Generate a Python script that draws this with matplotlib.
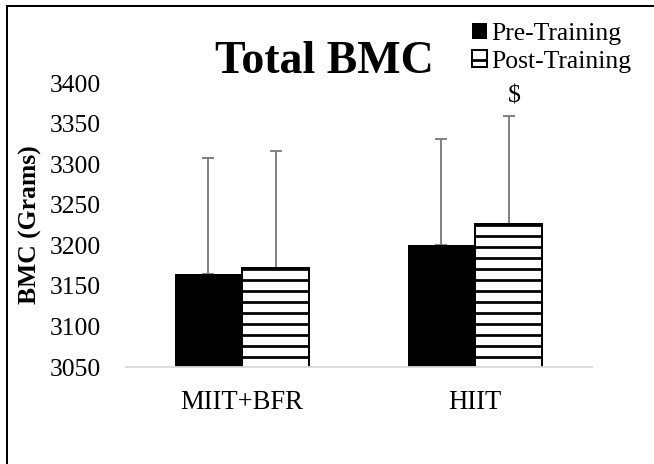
import numpy as np
import matplotlib
matplotlib.use("Agg")
import matplotlib.pyplot as plt
from matplotlib.lines import Line2D

# data
groups = ["MIIT+BFR", "HIIT"]
pre_vals = [3165, 3200]
post_vals = [3172, 3226]
pre_err = [142, 131]
post_err = [144, 133]
yticks = [3050, 3100, 3150, 3200, 3250, 3300, 3350, 3400]

plt.rcParams['font.family'] = ['Liberation Serif', 'DejaVu Serif']
plt.rcParams['hatch.linewidth'] = 3.0
plt.rcParams['hatch.color'] = 'black'

DPI = 66
fig = plt.figure(figsize=(654 / DPI, 464 / DPI), dpi=DPI)
ax = fig.add_axes([125.5 / 654, 97 / 464, 466 / 654, 284 / 464])

x = np.arange(len(groups))
w = 0.2876
ax.bar(x - w / 2, pre_vals, w, color='black', edgecolor='black', linewidth=0,
       label='Pre-Training', zorder=2)
ax.bar(x + w / 2, post_vals, w, color='white', edgecolor='black', linewidth=2.2,
       hatch='-', label='Post-Training', zorder=2)

ecol = '#7a7a7a'
ax.errorbar(x - w / 2, pre_vals, yerr=[np.zeros(2), pre_err], fmt='none',
            ecolor=ecol, elinewidth=2.0, capsize=6.5, capthick=2.0, zorder=1)
ax.errorbar(x + w / 2, post_vals, yerr=[np.zeros(2), post_err], fmt='none',
            ecolor=ecol, elinewidth=2.0, capsize=6.5, capthick=2.0, zorder=1)

# significance marker
ax.annotate('$', xy=(x[1] + w / 2, post_vals[1] + post_err[1]),
            xytext=(6, 10), textcoords='offset points', ha='center', va='bottom',
            fontsize=28)

ax.set_ylim(3050, 3400)
ax.set_xlim(-0.5, 1.5)
ax.set_yticks(yticks)
ax.set_xticks(x)
ax.set_xticklabels(groups, fontsize=29)
ax.tick_params(axis='both', length=0, labelsize=28)
ax.tick_params(axis='y', pad=27)
ax.tick_params(axis='x', pad=25, labelsize=29)
for s in ['top', 'right', 'left']:
    ax.spines[s].set_visible(False)
ax.spines['bottom'].set_color('#d9d9d9')
ax.spines['bottom'].set_linewidth(2)

ax.set_ylabel('BMC (Grams)', fontsize=28, fontweight='bold')
ax.yaxis.set_label_coords(-0.179, 0.5)

fig.text(324.5 / 654, 1 - 73 / 464, 'Total BMC', fontsize=50, fontweight='bold',
         ha='center', va='baseline')

fig.legend(loc='upper left', bbox_to_anchor=(472 / 654, 1 - 23 / 464),
           frameon=False, fontsize=28, handlelength=0.6, handleheight=0.6,
           handletextpad=0.15, labelspacing=0.2, borderpad=0, borderaxespad=0)

# outer border (top and left visible)
fig.add_artist(Line2D([7 / 654, 1], [1 - 6 / 464, 1 - 6 / 464], color='black', lw=2.2))
fig.add_artist(Line2D([7 / 654, 7 / 654], [0, 1 - 6 / 464], color='black', lw=2.2))

fig.savefig('out.png', dpi=DPI)
